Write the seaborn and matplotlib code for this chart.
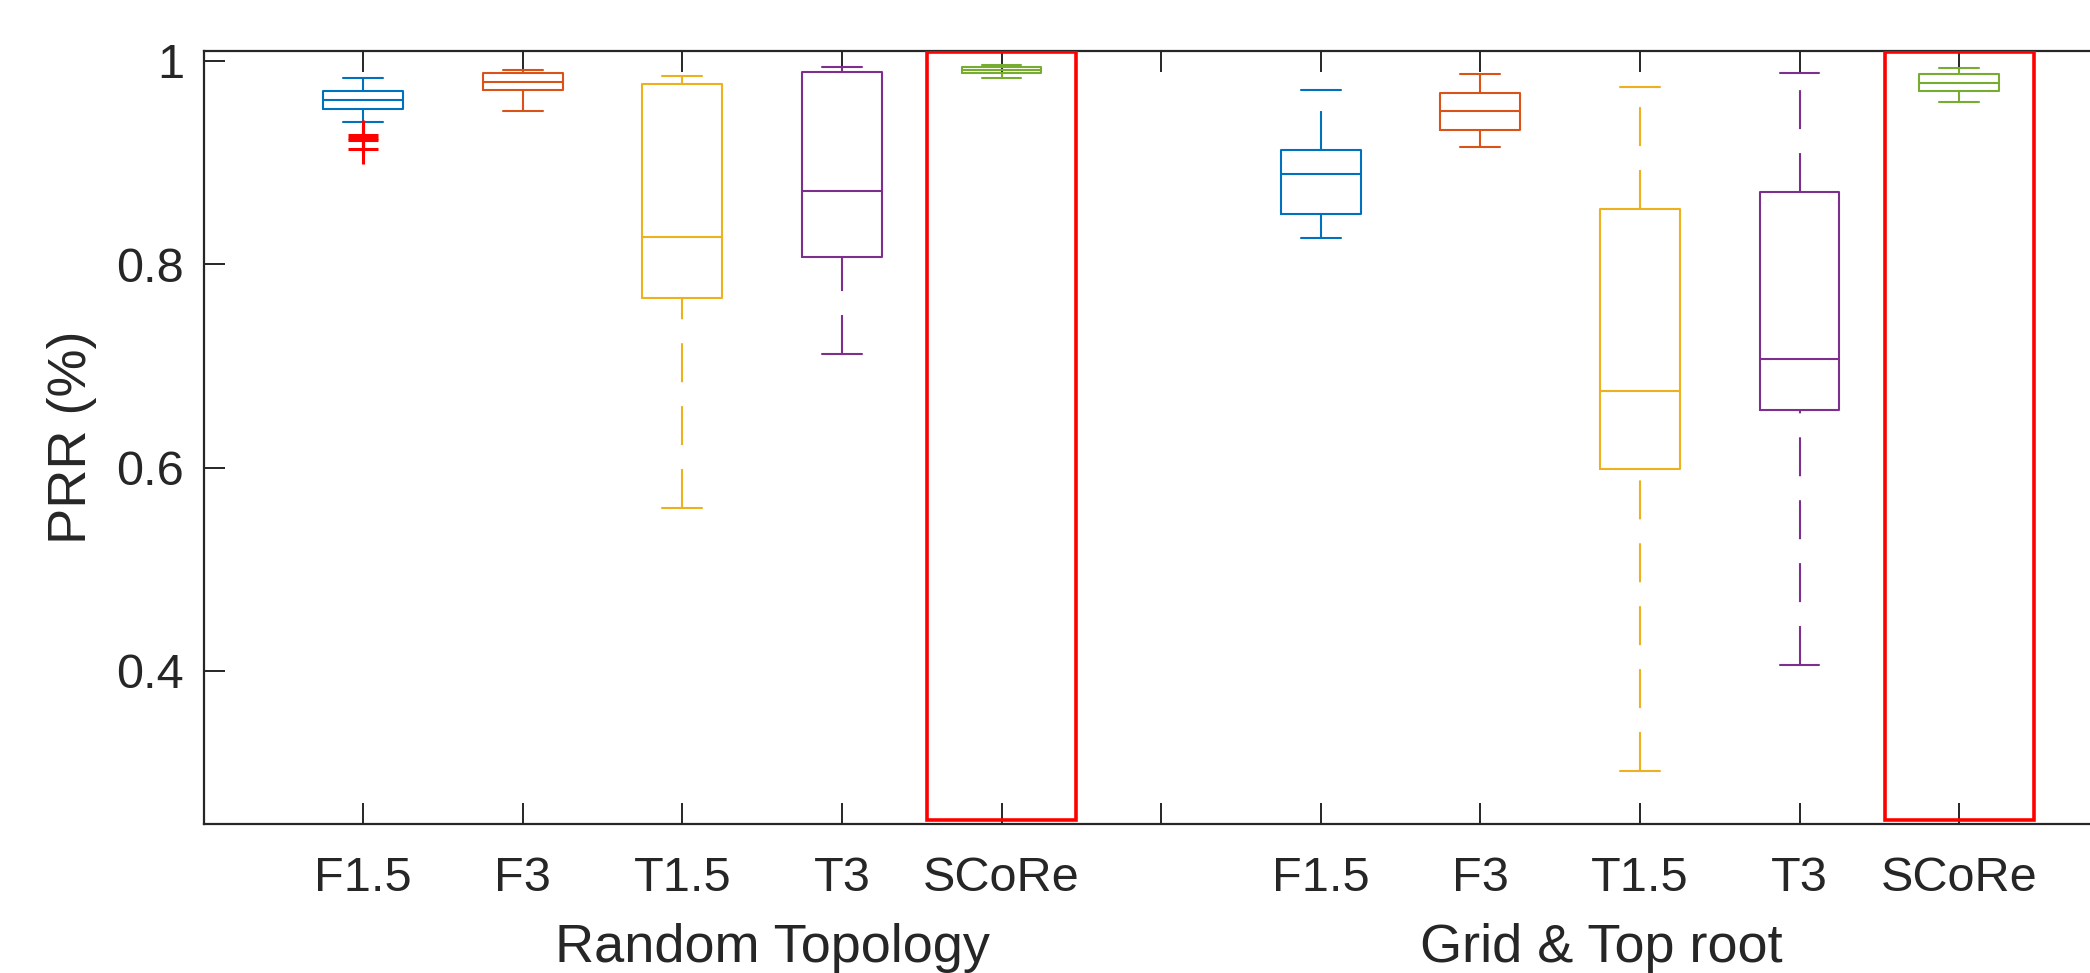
"""
plot.py

PRR box plots for five routing schemes on two topologies (MATLAB-style boxes).
"""

import numpy as np
import pandas as pd
import matplotlib
matplotlib.use("Agg")
import matplotlib.pyplot as plt
import matplotlib.transforms as mtransforms
from matplotlib.patches import Rectangle
import seaborn as sns


# ── Data ──────────────────────────────────────────────────────────────────────

METHODS = ["F1.5", "F3", "T1.5", "T3", "SCoRe"]
GROUPS = ["Random Topology", "Grid & Top root"]
GROUP_POSITIONS = [[1, 2, 3, 4, 5], [7, 8, 9, 10, 11]]

# five-number summaries per method: whisker low, q1, median, q3, whisker high
random_lo  = [0.9397, 0.9508, 0.5600, 0.7118, 0.9836]
random_q1  = [0.9525, 0.9715, 0.7672, 0.8075, 0.9885]
random_med = [0.9613, 0.9797, 0.8272, 0.8725, 0.9915]
random_q3  = [0.9702, 0.9882, 0.9771, 0.9892, 0.9944]
random_hi  = [0.9836, 0.9911, 0.9849, 0.9938, 0.9957]

grid_lo  = [0.8256, 0.9150, 0.3017, 0.4056, 0.9600]
grid_q1  = [0.8498, 0.9321, 0.5987, 0.6567, 0.9708]
grid_med = [0.8889, 0.9505, 0.6754, 0.7066, 0.9781]
grid_q3  = [0.9121, 0.9688, 0.8544, 0.8708, 0.9869]
grid_hi  = [0.9718, 0.9869, 0.9748, 0.9879, 0.9928]

# outliers (only F1.5 on the random topology has any)
outlier_pos = [1, 1, 1, 1]
outlier_val = [0.9269, 0.9245, 0.9223, 0.9138]

HIGHLIGHT = "SCoRe"

# MATLAB default line colours
PALETTE = {
    "F1.5":  "#0072BD",
    "F3":    "#D95319",
    "T1.5":  "#EDB120",
    "T3":    "#7E2F8E",
    "SCoRe": "#77AC30",
}
AX_COLOR = "#262626"


# ── Long-form table: five points per box reproduce the summary exactly ───────

summaries = [
    (random_lo, random_q1, random_med, random_q3, random_hi),
    (grid_lo, grid_q1, grid_med, grid_q3, grid_hi),
]
rows = []
for positions, stats in zip(GROUP_POSITIONS, summaries):
    for i, (pos, method) in enumerate(zip(positions, METHODS)):
        for s in stats:
            rows.append({"pos": pos, "method": method, "PRR": s[i]})
df = pd.DataFrame(rows)


# ── Plot ──────────────────────────────────────────────────────────────────────

sns.set_style("ticks")
plt.rcParams["font.family"] = ["Liberation Sans", "DejaVu Sans"]
plt.rcParams["axes.edgecolor"] = AX_COLOR

W, H = 2090, 973
fig = plt.figure(figsize=(W / 100, H / 100), dpi=100)

x_unit = 159.6                      # px per category step
left_px, top_px, bottom_px = 203.5, 50.7, 824.0
x_max = 12.5
ax = fig.add_axes([
    left_px / W,
    (H - bottom_px) / H,
    x_max * x_unit / W,
    (bottom_px - top_px) / H,
])

sns.boxplot(
    data=df, x="pos", y="PRR", hue="method",
    hue_order=METHODS, palette=PALETTE,
    native_scale=True, dodge=False, fill=False,
    width=0.5, whis=(0, 100), linewidth=1.5,
    whiskerprops={"linestyle": (0, (18.7, 11.5))},
    legend=False, ax=ax,
)

# MATLAB draws the lower whisker from the cap towards the box
for ln in ax.lines:
    if ln.get_linestyle() == "--":
        xd, yd = np.asarray(ln.get_xdata()), np.asarray(ln.get_ydata())
        if len(yd) == 2 and yd[0] > yd[1]:
            ln.set_data(xd[::-1], yd[::-1])

sns.scatterplot(
    x=outlier_pos, y=outlier_val, marker="+", color="red",
    s=480, linewidth=2.2, legend=False, ax=ax, zorder=4,
)

ax.set_xlim(0, x_max)
ax.set_ylim(0.2495, 1.0101)

# red frame around the proposed scheme in each group
y0, y1 = 0.2535, 1.0085
for positions in GROUP_POSITIONS:
    p = positions[METHODS.index(HIGHLIGHT)]
    ax.add_patch(Rectangle((p - 0.467, y0), 0.934, y1 - y0,
                           fill=False, edgecolor="red", linewidth=2.6, zorder=5))

xticks = list(range(1, 13))
xlabels = METHODS + [""] + METHODS + [""]
ax.set_xticks(xticks)
ax.set_xticklabels(xlabels)
ax.set_yticks([0.4, 0.6, 0.8, 1.0])
ax.set_yticklabels(["0.4", "0.6", "0.8", "1"])

ax.tick_params(axis="x", direction="in", top=True, bottom=True,
               length=15, width=1.4, labelsize=35, pad=23,
               color=AX_COLOR, labelcolor=AX_COLOR)
ax.tick_params(axis="y", direction="in", left=True, right=False,
               length=15, width=1.4, labelsize=35, pad=14,
               color=AX_COLOR, labelcolor=AX_COLOR)
for sp in ax.spines.values():
    sp.set_linewidth(1.6)
    sp.set_color(AX_COLOR)

ax.set_xlabel("")
ax.set_ylabel("PRR (%)", fontsize=39, color=AX_COLOR)
ax.yaxis.set_label_coords(-0.0535, 0.5)

# group names under the tick labels
trans = mtransforms.blended_transform_factory(ax.transData, fig.transFigure)
group_centres = [3.568, 8.757]
for name, xc in zip(GROUPS, group_centres):
    ax.text(xc, (H - 961.7) / H, name, transform=trans,
            ha="center", va="baseline", fontsize=39, color=AX_COLOR)

fig.savefig("out.png", dpi=100)
plt.close(fig)
